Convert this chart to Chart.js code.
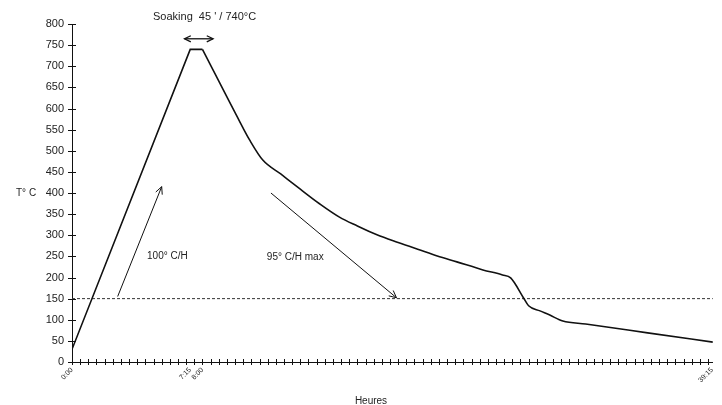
<!DOCTYPE html>
<html>
<head>
<meta charset="utf-8">
<script src="https://cdn.jsdelivr.net/npm/chart.js@4/dist/chart.umd.min.js"></script>
<style>
  html, body { margin: 0; padding: 0; background: #fff; }
  #wrap { width: 722px; height: 405px; position: relative; }
</style>
</head>
<body>
<div id="wrap"><canvas id="cycle"></canvas></div>
<script>
// montée + palier (heures / température)
const heatHours = [0, 7.25, 8];
const heatTemps = [30, 740, 740];

// refroidissement
const coolHours = [8, 10.3, 10.9, 11.7, 12.8, 14.0, 15.2, 16.4, 17.5, 18.7, 19.9, 21.2, 22.4, 23.6, 25.2, 26.4, 26.9, 27.7, 28.0, 28.7, 29.3, 30.1, 31.5, 32.8, 35.3, 39.3];
const coolTemps = [740, 568, 525, 478, 445, 409, 374, 343, 322, 301, 284, 267, 251, 237, 218, 206, 199, 151, 133, 121, 111, 97, 90, 83, 69, 47];

// ligne pointillée 150°C
const refHours = [0, 39.3];
const refTemps = [150, 150];

// étiquettes de l'axe des heures
const xTickValues = [0, 7.25, 8, 39.25];
const xTickLabels = ['0:00', '7:15', '8:00', '39:15'];
const yTicks = [0, 50, 100, 150, 200, 250, 300, 350, 400, 450, 500, 550, 600, 650, 700, 750, 800];

// flèches (heure, temp) départ -> arrivée
const arrowUp = [2.8, 155, 5.5, 415];
const arrowDown = [12.2, 400, 19.9, 152];
const soakArrow = [6.9, 765, 8.65, 765];

function drawHead(ctx, x0, y0, x1, y1, size) {
    const a = Math.atan2(y1 - y0, x1 - x0);
    ctx.beginPath();
    ctx.moveTo(x1 - size * Math.cos(a - 0.45), y1 - size * Math.sin(a - 0.45));
    ctx.lineTo(x1, y1);
    ctx.lineTo(x1 - size * Math.cos(a + 0.45), y1 - size * Math.sin(a + 0.45));
    ctx.stroke();
}

const annotations = {
    id: 'annotations',
    afterDraw(chart) {
        const ctx = chart.ctx;
        const xs = chart.scales.x, ys = chart.scales.y;
        ctx.save();
        ctx.strokeStyle = '#111';
        ctx.lineWidth = 1;

        // petites graduations
        for (let h = 0; h <= 39.3; h += 0.5) {
            const px = Math.round(xs.getPixelForValue(h)) + 0.5;
            ctx.beginPath();
            ctx.moveTo(px, ys.bottom - 3);
            ctx.lineTo(px, ys.bottom + 3);
            ctx.stroke();
        }
        yTicks.forEach(v => {
            const py = Math.round(ys.getPixelForValue(v)) + 0.5;
            ctx.beginPath();
            ctx.moveTo(xs.left - 4, py);
            ctx.lineTo(xs.left + 4, py);
            ctx.stroke();
        });

        // flèches
        [arrowUp, arrowDown].forEach(a => {
            const x0 = xs.getPixelForValue(a[0]), y0 = ys.getPixelForValue(a[1]);
            const x1 = xs.getPixelForValue(a[2]), y1 = ys.getPixelForValue(a[3]);
            ctx.beginPath();
            ctx.moveTo(x0, y0);
            ctx.lineTo(x1, y1);
            ctx.stroke();
            drawHead(ctx, x0, y0, x1, y1, 8);
        });
        const sx0 = xs.getPixelForValue(soakArrow[0]), sy = ys.getPixelForValue(soakArrow[1]);
        const sx1 = xs.getPixelForValue(soakArrow[2]);
        ctx.lineWidth = 1.3;
        ctx.beginPath();
        ctx.moveTo(sx0, sy);
        ctx.lineTo(sx1, sy);
        ctx.stroke();
        drawHead(ctx, sx0, sy, sx1, sy, 7);
        drawHead(ctx, sx1, sy, sx0, sy, 7);

        // textes
        ctx.fillStyle = '#222';
        ctx.textBaseline = 'middle';
        ctx.textAlign = 'left';
        ctx.font = '11px "Liberation Sans", Arial, sans-serif';
        ctx.fillText('Soaking  45 \' / 740°C', 153, 17);
        ctx.font = '10px "Liberation Sans", Arial, sans-serif';
        ctx.fillText('100° C/H', xs.getPixelForValue(4.6), ys.getPixelForValue(250));
        ctx.fillText('95° C/H max', xs.getPixelForValue(11.95), ys.getPixelForValue(248));
        ctx.fillText('T° C', 16, ys.getPixelForValue(400));
        ctx.textAlign = 'center';
        ctx.fillText('Heures', 371, 401);
        ctx.restore();
    }
};

new Chart(document.getElementById('cycle'), {
    type: 'line',
    data: {
        datasets: [{
            data: heatHours.map((h, i) => ({ x: h, y: heatTemps[i] })),
            borderColor: '#111',
            borderWidth: 1.6,
            pointRadius: 0,
            tension: 0,
            fill: false
        }, {
            data: coolHours.map((h, i) => ({ x: h, y: coolTemps[i] })),
            borderColor: '#111',
            borderWidth: 1.6,
            pointRadius: 0,
            cubicInterpolationMode: 'monotone',
            fill: false
        }, {
            data: refHours.map((h, i) => ({ x: h, y: refTemps[i] })),
            borderColor: '#333',
            borderWidth: 1,
            borderDash: [3, 2],
            pointRadius: 0,
            fill: false
        }]
    },
    options: {
        responsive: true,
        maintainAspectRatio: false,
        animation: false,
        events: [],
        layout: { padding: { top: 24, right: 9, left: 0, bottom: 0 } },
        plugins: { legend: { display: false }, tooltip: { enabled: false } },
        scales: {
            x: {
                type: 'linear',
                min: 0,
                max: 39.3,
                afterBuildTicks: axis => { axis.ticks = xTickValues.map(v => ({ value: v })); },
                afterFit: axis => { axis.height = 43; },
                grid: { drawOnChartArea: false, drawTicks: false },
                border: { display: true, color: '#111', width: 1 },
                ticks: {
                    autoSkip: false,
                    minRotation: 45,
                    maxRotation: 45,
                    padding: 4,
                    color: '#222',
                    font: { size: 7, family: '"Liberation Sans", Arial, sans-serif' },
                    callback: v => xTickLabels[xTickValues.indexOf(v)]
                }
            },
            y: {
                min: 0,
                max: 800,
                afterBuildTicks: axis => { axis.ticks = yTicks.map(v => ({ value: v })); },
                afterFit: axis => { axis.width = 72; },
                grid: { drawOnChartArea: false, drawTicks: false },
                border: { display: true, color: '#111', width: 1 },
                ticks: {
                    padding: 8,
                    color: '#222',
                    font: { size: 11, family: '"Liberation Sans", Arial, sans-serif' }
                }
            }
        }
    },
    plugins: [annotations]
});
</script>
</body>
</html>
